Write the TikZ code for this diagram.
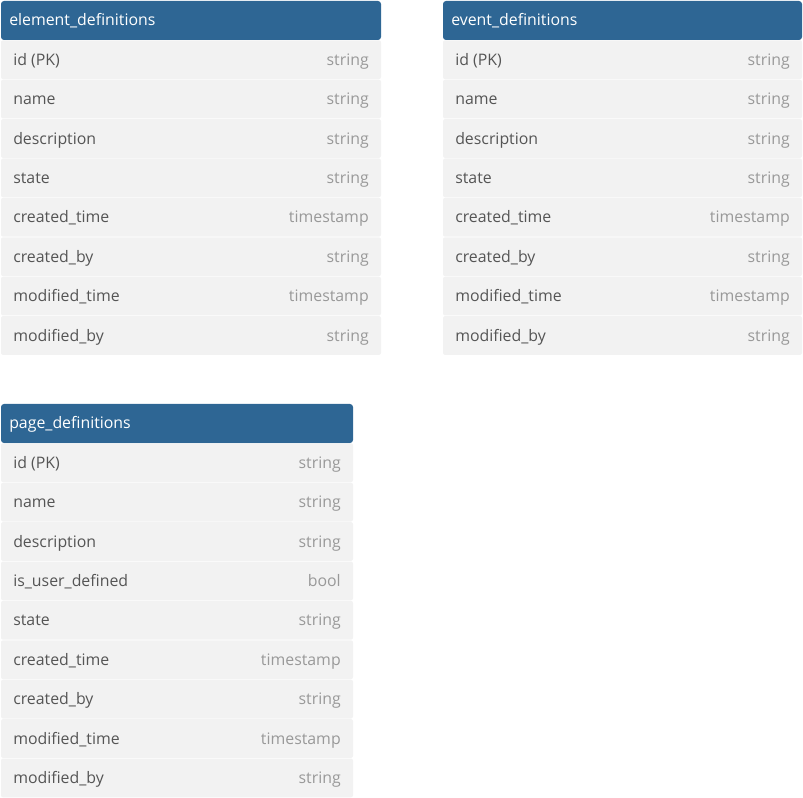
\documentclass[tikz,border=0pt]{standalone}
\usepackage{fontspec}
\setmainfont{Open Sans}
\definecolor{hdrblue}{HTML}{2E6694}
\definecolor{rowbg}{HTML}{F2F2F2}
\definecolor{nametxt}{HTML}{555555}
\definecolor{typetxt}{HTML}{999999}
\tikzset{
  hdrbox/.style={fill=hdrblue, rounded corners=2.25pt},
  rowbox/.style={fill=rowbg, rounded corners=1.5pt},
  hdrtxt/.style={text=white, anchor=west, inner sep=0pt, font=\fontsize{11.9pt}{13.5pt}\selectfont, text height=8.6pt, text depth=2.4pt},
  nametext/.style={text=nametxt, anchor=west, inner sep=0pt, font=\fontsize{11.9pt}{13.5pt}\selectfont, text height=8.6pt, text depth=2.4pt},
  typetext/.style={text=typetxt, anchor=east, inner sep=0pt, font=\fontsize{11.9pt}{13.5pt}\selectfont, text height=8.6pt, text depth=2.4pt},
}
\newcommand\erdtable[6]{%
  \path[hdrbox] (#2,#4) rectangle (#3,#4+39);
  \node[hdrtxt] (#1-h) at (#2+8,#4+20.5) {#5};
  \foreach \n/\ty [count=\i] in {#6} {
    \path[rowbox] (#2,{#4+39+(\i-1)*39.4+0.3}) rectangle (#3,{#4+39+\i*39.4-0.3});
    \node[nametext] (#1-n\i) at (#2+12,{#4+40.5+(\i-0.5)*39.4}) {\n};
    \node[typetext] (#1-t\i) at (#3-12,{#4+40.5+(\i-0.5)*39.4}) {\ty};
  }%
}
\begin{document}
\begin{tikzpicture}[x=0.75pt,y=-0.75pt]
\useasboundingbox (0,0) rectangle (803,798);
\erdtable{el}{1}{381}{1}{element\_definitions}{id (PK)/string, name/string, description/string, state/string, created\_time/timestamp, created\_by/string, modified\_time/timestamp, modified\_by/string}
\erdtable{ev}{443}{802}{1}{event\_definitions}{id (PK)/string, name/string, description/string, state/string, created\_time/timestamp, created\_by/string, modified\_time/timestamp, modified\_by/string}
\erdtable{pg}{1}{353}{404}{page\_definitions}{id (PK)/string, name/string, description/string, is\_user\_defined/bool, state/string, created\_time/timestamp, created\_by/string, modified\_time/timestamp, modified\_by/string}
\end{tikzpicture}
\end{document}
